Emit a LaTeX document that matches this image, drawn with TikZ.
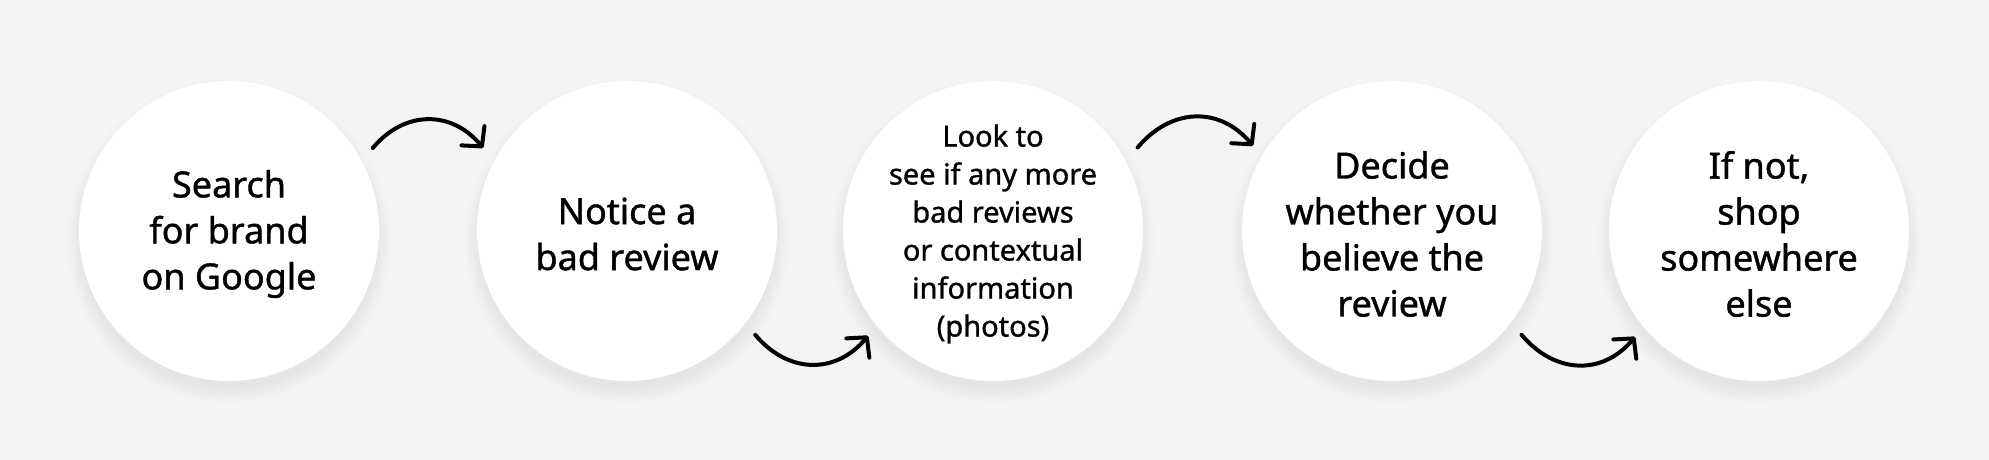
\documentclass[tikz,border=0pt]{standalone}
\usepackage{fontspec}
\setmainfont{Noto Sans}[FakeBold=1.1]
\usetikzlibrary{arrows.meta}
\definecolor{bg}{HTML}{F3F4F6}
\begin{document}
\begin{tikzpicture}[x=1pt,y=1pt,
  stepcircle/.style={circle, fill=white, minimum size=300pt, inner sep=0pt},
  steptext/.style={align=center, inner sep=0pt, font=\fontsize{36}{46}\selectfont, text=black},
  smalltext/.style={font=\fontsize{29}{38}\selectfont},
  flow/.style={line width=4pt, line cap=round,
    -{Straight Barb[length=14pt,width=30pt,line cap=round,line join=round]}},
  flowup/.style={flow, out=50, in=130, looseness=1.15},
  flowdown/.style={flow, out=-50, in=-130, looseness=1.15}]
\useasboundingbox (0,0) rectangle (1989,460);
\fill[bg] (0,0) rectangle (1989,460);
\foreach \x in {229,627,993,1392,1759}{
  \foreach \i in {0,...,14} \fill[black,opacity=0.0035] (\x,219) circle (148+\i);
}
\node[stepcircle] (c1) at (229,229) {};
\node[stepcircle] (c2) at (627,229) {};
\node[stepcircle] (c3) at (993,229) {};
\node[stepcircle] (c4) at (1392,229) {};
\node[stepcircle] (c5) at (1759,229) {};
\node[steptext] (t1) at (229,226) {Search\\for brand\\on Google};
\node[steptext] (t2) at (627,226) {Notice a\\bad review};
\node[steptext, smalltext] (t3) at (993,226) {Look to\\see if any more\\bad reviews\\or contextual\\information\\(photos)};
\node[steptext] (t4) at (1392,226) {Decide\\whether you\\believe the\\review};
\node[steptext] (t5) at (1759,226) {If not,\\shop\\somewhere\\else};
\path (c1.center) ++(30:166) coordinate (a1s);
\path (c2.center) ++(150:166) coordinate (a1e);
\path (c2.center) ++(-39:165) coordinate (a2s);
\path (c3.center) ++(-140:163) coordinate (a2e);
\path (c3.center) ++(30:167) coordinate (a3s);
\path (c4.center) ++(148.5:163) coordinate (a3e);
\path (c4.center) ++(-38.7:166) coordinate (a4s);
\path (c5.center) ++(-139.5:163) coordinate (a4e);
\draw[flowup] (a1s) to (a1e);
\draw[flowdown] (a2s) to (a2e);
\draw[flowup] (a3s) to (a3e);
\draw[flowdown] (a4s) to (a4e);
\end{tikzpicture}
\end{document}
